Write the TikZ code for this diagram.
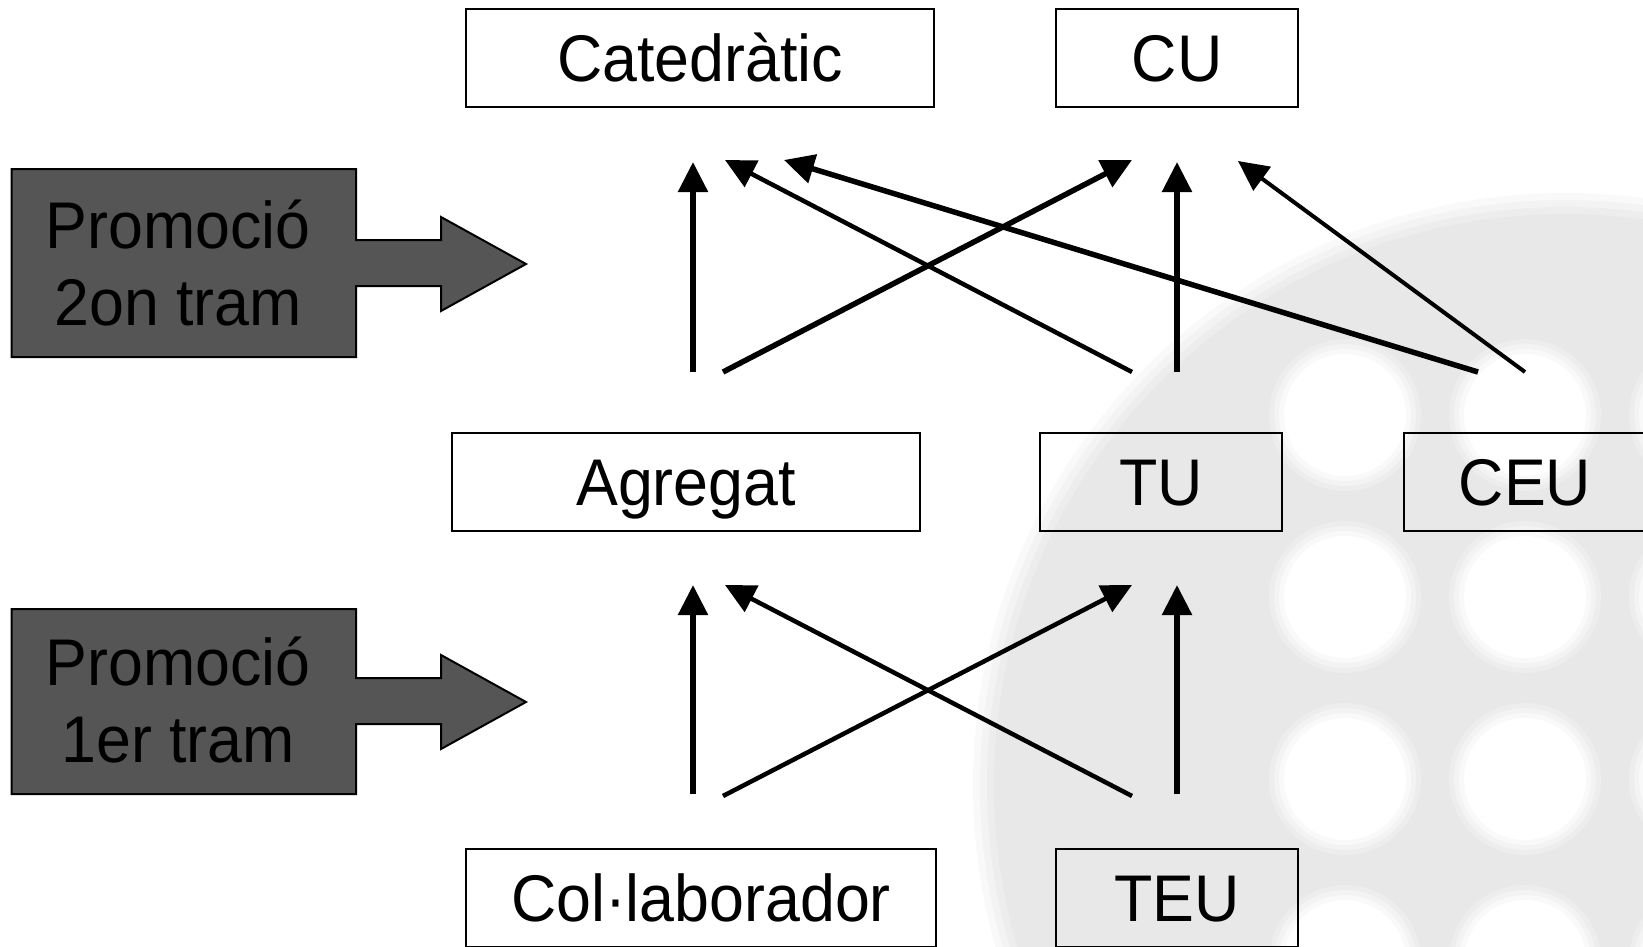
\documentclass[tikz,border=0pt]{standalone}
\usepackage{fontspec}
\setmainfont[FakeStretch=0.95]{Liberation Sans}
\usetikzlibrary{arrows.meta}
\definecolor{promogray}{HTML}{555555}
\definecolor{wmgray}{HTML}{E8E8E8}
\definecolor{wmsoftA}{HTML}{EDEDED}
\definecolor{wmsoftB}{HTML}{F3F3F3}
\definecolor{wmsoftC}{HTML}{F9F9F9}
\tikzset{
  box/.style={draw=black, line width=1.5pt, minimum height=98pt, inner sep=0pt,
              text height=47pt, text depth=0pt, font=\fontsize{66}{76}\selectfont},
  promo/.style={fill=promogray, draw=black, line width=2pt},
  promolabel/.style={align=center, inner sep=0pt, font=\fontsize{66}{77}\selectfont},
  conn/.style={draw=black, line width=4.5pt, -{Triangle[length=30pt,width=29pt]}},
  thickconn/.style={conn, line width=5.5pt},
  thinconn/.style={conn, line width=4pt}
}
\begin{document}
\begin{tikzpicture}[x=1pt,y=-1pt]
\useasboundingbox (0,0) rectangle (1643,946);
% watermark
\begin{scope}
\clip (0,0) rectangle (1643,946);
\fill[wmsoftC] (1565,785) circle[radius=592];
\fill[wmsoftB] (1565,785) circle[radius=585];
\fill[wmsoftA] (1565,785) circle[radius=578];
\fill[wmgray] (1565,785) circle[radius=571];
\foreach \cx in {1345,1525,1705}{
  \foreach \cy in {415,597,779,961}{
    \fill[wmsoftA] (\cx,\cy) circle[radius=76];
    \fill[wmsoftB] (\cx,\cy) circle[radius=71];
    \fill[wmsoftC] (\cx,\cy) circle[radius=66];
    \fill[white] (\cx,\cy) circle[radius=61];
  }
}
\end{scope}
% boxes
\node[box, minimum width=468pt] (cat) at (700,58) {Catedràtic};
\node[box, minimum width=242pt] (cu) at (1177,58) {CU};
\node[box, minimum width=468pt] (agr) at (686,482) {Agregat};
\node[box, minimum width=242pt] (tu) at (1161,482) {TU};
\node[box, minimum width=242pt] (ceu) at (1525,482) {CEU};
\node[box, minimum width=470pt] (col) at (701,898) {Col·laborador};
\node[box, minimum width=242pt] (teu) at (1177,898) {TEU};
% promotion block arrows
\path[promo] (11.5,169) -- (356,169) -- (356,240) -- (441,240) -- (441,217) -- (526,264)
  -- (441,311) -- (441,286) -- (356,286) -- (356,357) -- (11.5,357) -- cycle;
\node[promolabel] (p2) at (178,263) {Promoció\\2on tram};
\path[promo] (11.5,609) -- (356,609) -- (356,678) -- (441,678) -- (441,655) -- (526,702)
  -- (441,749) -- (441,724) -- (356,724) -- (356,794) -- (11.5,794) -- cycle;
\node[promolabel] (p1) at (178,700) {Promoció\\1er tram};
% connector end points
\coordinate (u1s) at (693,372);  \coordinate (u1e) at (693,162);
\coordinate (u2s) at (723,372);  \coordinate (u2e) at (1132,160);
\coordinate (u3s) at (1132,372); \coordinate (u3e) at (725,160);
\coordinate (u4s) at (1177,372); \coordinate (u4e) at (1177,162);
\coordinate (u5s) at (1478,372); \coordinate (u5e) at (784,160);
\coordinate (u6s) at (1525,372); \coordinate (u6e) at (1238,161);
\coordinate (l1s) at (693,794);  \coordinate (l1e) at (693,585);
\coordinate (l2s) at (723,796);  \coordinate (l2e) at (1132,585);
\coordinate (l3s) at (1132,796); \coordinate (l3e) at (725,585);
\coordinate (l4s) at (1177,794); \coordinate (l4e) at (1177,585);
% connectors
\draw[thickconn] (u1s) -- (u1e);
\draw[thickconn] (u2s) -- (u2e);
\draw[conn] (u3s) -- (u3e);
\draw[thickconn] (u4s) -- (u4e);
\draw[thickconn] (u5s) -- (u5e);
\draw[thinconn] (u6s) -- (u6e);
\draw[thickconn] (l1s) -- (l1e);
\draw[conn] (l2s) -- (l2e);
\draw[conn] (l3s) -- (l3e);
\draw[thickconn] (l4s) -- (l4e);
\end{tikzpicture}
\end{document}
